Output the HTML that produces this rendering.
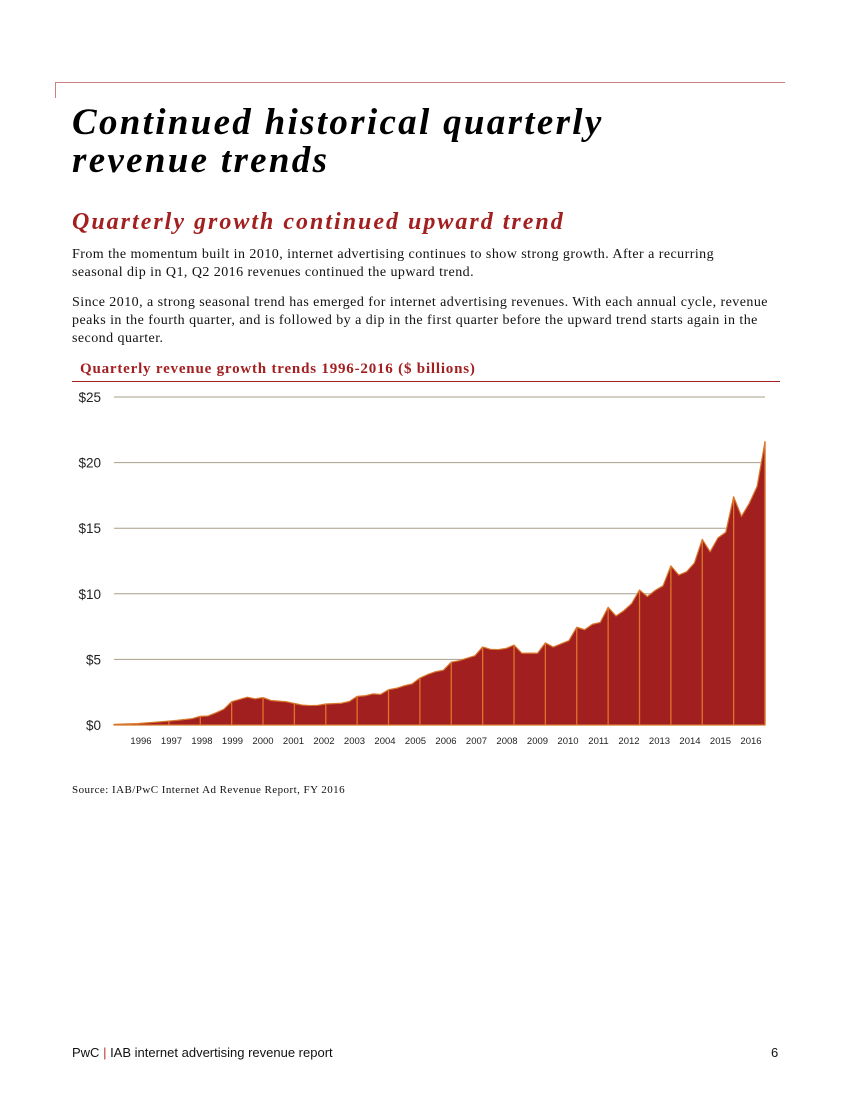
<!DOCTYPE html>
<html><head><meta charset="utf-8"><style>
body{margin:0;background:#fff;width:850px;height:1100px;position:relative;overflow:hidden;font-family:"Liberation Serif",serif;color:#111}
.a{position:absolute;margin:0;white-space:nowrap}
h1{font-family:"Liberation Serif",serif;font-weight:bold;font-style:italic;font-size:37px;line-height:38px;letter-spacing:2.3px;left:72px;top:104px;color:#000}
h2{font-family:"Liberation Serif",serif;font-weight:bold;font-style:italic;font-size:24px;letter-spacing:2px;left:72px;top:209px;color:#a32020}
.p{font-size:14px;line-height:18px;left:72px;letter-spacing:0.45px}
</style></head><body>
<div class="a" style="left:55px;top:82px;width:730px;height:1px;background:#c98080"></div>
<div class="a" style="left:55px;top:82px;width:1px;height:16px;background:#c98080"></div>
<h1 class="a">Continued historical quarterly<br>revenue trends</h1>
<h2 class="a">Quarterly growth continued upward trend</h2>
<p class="a p" style="top:246px">From the momentum built in 2010, internet advertising continues to show strong growth. After a recurring<br>seasonal dip in Q1, Q2 2016 revenues continued the upward trend.</p>
<p class="a p" style="top:294px">Since 2010, a strong seasonal trend has emerged for internet advertising revenues. With each annual cycle, revenue<br>peaks in the fourth quarter, and is followed by a dip in the first quarter before the upward trend starts again in the<br>second quarter.</p>
<div class="a" style="left:80px;top:361px;font-size:15px;font-weight:bold;letter-spacing:0.8px;color:#a32020">Quarterly revenue growth trends 1996-2016 ($ billions)</div>
<div class="a" style="left:72px;top:381px;width:708px;height:1px;background:#a32020"></div>
<svg class="a" style="left:0;top:0" width="850" height="800" id="chart"></svg>
<div class="a" style="left:72px;top:784px;font-size:11px;letter-spacing:0.45px">Source: IAB/PwC Internet Ad Revenue Report, FY 2016</div>
<div class="a" style="left:72px;top:1045px;font-family:'Liberation Sans',sans-serif;font-size:13px">PwC <span style="color:#c03030">|</span> IAB internet advertising revenue report</div>
<div class="a" style="left:771px;top:1045px;font-family:'Liberation Sans',sans-serif;font-size:13px">6</div>
<script>
const years=[1996,1997,1998,1999,2000,2001,2002,2003,2004,2005,2006,2007,2008,2009,2010,2011,2012,2013,2014,2015,2016];
const yTicks=[0,5,10,15,20,25];
const yTickLabels=["$0","$5","$10","$15","$20","$25"];
const revenue=[0.05,0.07,0.09,0.11,0.15,0.2,0.25,0.3,0.35,0.42,0.49,0.66,0.69,0.93,1.2,1.78,1.95,2.12,1.99,2.09,1.87,1.82,1.77,1.64,1.52,1.48,1.5,1.6,1.63,1.66,1.79,2.18,2.23,2.37,2.33,2.69,2.8,2.99,3.13,3.58,3.85,4.06,4.18,4.79,4.9,5.09,5.27,5.95,5.77,5.75,5.84,6.09,5.47,5.48,5.47,6.26,5.94,6.19,6.43,7.45,7.26,7.68,7.82,8.97,8.31,8.71,9.26,10.29,9.79,10.26,10.61,12.13,11.43,11.68,12.35,14.15,13.2,14.26,14.69,17.4,15.9,16.9,18.2,21.6];
const NS="http://www.w3.org/2000/svg",svg=document.getElementById('chart');
const x0=114,x1=765,yb=725,yt=397;
const xs=i=>x0+i*(x1-x0)/(revenue.length-1);
const ys=v=>yb-(v/25)*(yb-yt);
function mk(t,a){const e=document.createElementNS(NS,t);for(const k in a)e.setAttribute(k,a[k]);svg.appendChild(e);return e;}
yTicks.forEach((v,i)=>{
 const l=mk('line',{x1:x0,x2:x1,y1:ys(v),y2:ys(v),stroke:'#a89f88','stroke-width':1});
 
 
 const t=mk('text',{x:101,y:ys(v)+5,'text-anchor':'end','font-family':'Liberation Sans, sans-serif','font-size':13.5,fill:'#222'});
 t.textContent=yTickLabels[i];
 
 
});
let d='M'+xs(0)+','+ys(0);
revenue.forEach((v,i)=>{d+='L'+xs(i)+','+ys(v);});
d+='L'+xs(revenue.length-1)+','+ys(0)+'Z';
const area=mk('path',{d:d,fill:'#a11f1f',stroke:'#d8772a','stroke-width':1.2,'stroke-linejoin':'round'});


years.forEach((y,k)=>{
 const i=k*4+3;
 if(i<revenue.length){
  const l=mk('line',{x1:xs(i),x2:xs(i),y1:ys(0),y2:ys(revenue[i]),stroke:'#e0742a','stroke-width':1.3});
  
  
 }
 const t=mk('text',{x:141+k*30.5,y:744,'text-anchor':'middle','font-family':'Liberation Sans, sans-serif','font-size':9.5,fill:'#222'});
 t.textContent=y;
 
 
});
</script>
</body></html>
